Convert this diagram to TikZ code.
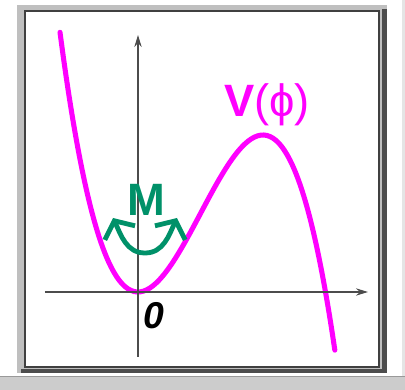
\documentclass[tikz,border=0pt]{standalone}
\usepackage{fontspec}
\setmainfont{Liberation Sans}
\usetikzlibrary{arrows.meta}
\definecolor{potmag}{RGB}{255,0,255}
\definecolor{massgreen}{RGB}{0,145,105}
\tikzset{
  axis/.style     ={draw=black!70, line width=1.1pt, -{Stealth[length=9pt,width=5.5pt]}},
  potential/.style={draw=potmag, line width=3.8pt, line cap=round},
  massarr/.style  ={draw=massgreen, line width=3.6pt,
                    {Straight Barb[length=10pt,width=25pt]}-{Straight Barb[length=10pt,width=25pt]}},
  lbl/.style      ={inner sep=0pt, font=\fontsize{34}{34}\selectfont\bfseries},
}

\begin{document}
\begin{tikzpicture}[x=0.75pt,y=0.75pt]
  \useasboundingbox (0,0) rectangle (405,390);

  % ---- frame ---------------------------------------------------------
  \fill[black!20] (0,0) rectangle (405,13);
  \draw[black!40, line width=0.75pt] (0,13) -- (405,13);
  \fill[black!10] (402,14) rectangle (405,390);
  \fill[black!25] (17,17) rectangle (387,385);
  \fill[black!70] (382,17) rectangle (387,381);
  \fill[black!70] (21,17) rectangle (387,21);
  \filldraw[fill=white, draw=black!75, line width=1.5pt] (25,23) rectangle (379,379);

  % ---- potential -----------------------------------------------------
  \draw[potential] plot[domain=-0.624:1.576, samples=90, smooth]
        ({138+125*\x},{98+157*(3*\x*\x-2*\x*\x*\x)});

  % ---- axes ----------------------------------------------------------
  \coordinate (xs) at (45,98);
  \coordinate (xe) at (368,98);
  \coordinate (ys) at (138,33);
  \coordinate (ye) at (138,355);
  \draw[axis] (xs) -- (xe);
  \draw[axis] (ys) -- (ye);

  % ---- labels --------------------------------------------------------
  \node[lbl, text=potmag] (vphi) at (267,285) {V\mdseries(\symbol{"03D5})};
  \node[font=\fontsize{28}{28}\selectfont\bfseries\itshape, inner sep=0pt] (zero) at (154,74) {0};
  \node[lbl, text=massgreen] (mass) at (146,190) {M};

  % ---- oscillation ---------------------------------------------------
  \coordinate (mL) at (113,172);
  \coordinate (mB) at (145,137);
  \coordinate (mR) at (177,172);
  \draw[massarr] (mL) to[out=-65,in=180] (mB) to[out=0,in=245] (mR);
\end{tikzpicture}
\end{document}
